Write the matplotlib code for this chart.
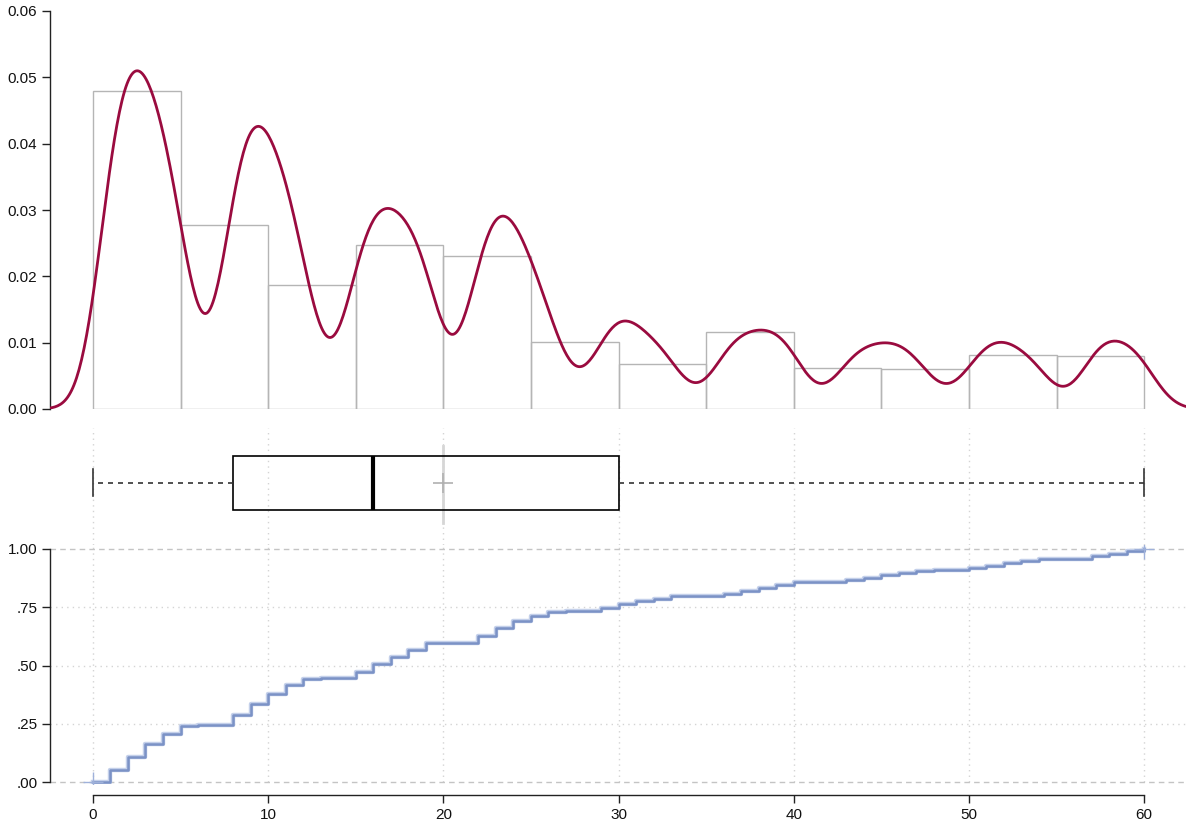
import numpy as np
import matplotlib
matplotlib.use("Agg")
import matplotlib.pyplot as plt

plt.rcParams['font.family'] = ['Liberation Sans', 'DejaVu Sans']

# ---------------- data ----------------
days = list(range(0, 61))
ecdf_levels = [
    0.000, 0.053, 0.108, 0.164, 0.207, 0.241, 0.243, 0.243, 0.286, 0.336,
    0.379, 0.416, 0.442, 0.445, 0.445, 0.473, 0.505, 0.538, 0.565, 0.595,
    0.598, 0.598, 0.627, 0.661, 0.692, 0.714, 0.731, 0.735, 0.735, 0.747,
    0.764, 0.777, 0.787, 0.797, 0.797, 0.798, 0.809, 0.821, 0.833, 0.846,
    0.857, 0.857, 0.858, 0.867, 0.877, 0.887, 0.898, 0.907, 0.910, 0.910,
    0.917, 0.928, 0.940, 0.948, 0.957, 0.957, 0.957, 0.968, 0.980, 0.990,
    1.000,
]
bin_edges = [0, 5, 10, 15, 20, 25, 30, 35, 40, 45, 50, 55, 60]
hist_density = [0.0479, 0.0278, 0.0187, 0.0247, 0.0231, 0.0101,
                0.0068, 0.0116, 0.0062, 0.0060, 0.0081, 0.0080]
box_stats = dict(whislo=0, q1=8, med=16, q3=30, whishi=60, mean=20)
kde_bandwidth = 1.1

x_ticks = [0, 10, 20, 30, 40, 50, 60]
dens_ticks = [0.00, 0.01, 0.02, 0.03, 0.04, 0.05, 0.06]
dens_labels = ["0.00", "0.01", "0.02", "0.03", "0.04", "0.05", "0.06"]
ecdf_ticks = [0.0, 0.25, 0.5, 0.75, 1.0]
ecdf_labels = [".00", ".25", ".50", ".75", "1.00"]

# --------------- figure --------------
W, H = 1186, 825
fig = plt.figure(figsize=(W / 100, H / 100), dpi=100)

def frac(left, top, right, bottom):
    return [left / W, 1 - bottom / H, (right - left) / W, (bottom - top) / H]

x_lo = -2.45
x_hi = x_lo + (W - 50) / 17.52

# --------------- derived -------------
days_a = np.array(days, dtype=float)
levels_a = np.array(ecdf_levels)
weights = np.diff(np.concatenate([[0.0], levels_a]))
weights = np.clip(weights, 0, None)
weights = weights / weights.sum()
obs = days_a[weights > 0]
w_obs = weights[weights > 0]
gx = np.linspace(x_lo, x_hi, 900)
z = (gx[:, None] - obs[None, :]) / kde_bandwidth
kde = (np.exp(-0.5 * z ** 2) / np.sqrt(2 * np.pi) * w_obs[None, :]).sum(axis=1) / kde_bandwidth

ax_top = fig.add_axes(frac(50, 11, W, 409))
ax_mid = fig.add_axes(frac(50, 428, W, 545))
ax_bot = fig.add_axes(frac(50, 545, W, 784))

grid_col = "#d4d4d4"
tick_col = "#222222"
fs = 11

# ---- top: histogram + density ----
ax_top.bar(bin_edges[:-1], hist_density, width=np.diff(bin_edges), align="edge",
           fill=False, edgecolor="#b5b5b5", linewidth=1.0, zorder=2)
ax_top.plot(gx, kde, color="#9a0b3f", linewidth=2.0, zorder=3, solid_capstyle="round")
ax_top.set_xlim(x_lo, x_hi)
ax_top.set_ylim(0, 0.06)
for s in ["top", "right", "bottom"]:
    ax_top.spines[s].set_visible(False)
ax_top.spines["left"].set_color(tick_col)
ax_top.spines["left"].set_linewidth(1.0)
ax_top.set_xticks([])
ax_top.set_yticks(dens_ticks)
ax_top.set_yticklabels(dens_labels, fontsize=fs, color="#111111")
ax_top.tick_params(axis="y", direction="out", length=6, width=1.0, color=tick_col, pad=3)
ax_top.patch.set_alpha(0)

# ---- middle: boxplot ----
ax_mid.set_xlim(x_lo, x_hi)
ax_mid.set_ylim(0, 117)
for xt in x_ticks:
    ax_mid.axvline(xt, color=grid_col, linestyle=(0, (1, 3)), linewidth=1.0, zorder=0)
box_center = 545 - 483
stats = dict(box_stats)
stats["fliers"] = []
ax_mid.plot([stats["mean"], stats["mean"]], [545 - 523, 545 - 446], color="#d6d6d6",
            linewidth=2.0, zorder=1)
ax_mid.plot([stats["mean"]], [box_center], marker="+", markersize=15, mew=1.2,
            color="#b0b0b0", zorder=4)
ax_mid.bxp([stats], positions=[box_center], vert=False, widths=53, showmeans=False,
           showfliers=False, patch_artist=True,
           boxprops=dict(facecolor="none", edgecolor="black", linewidth=1.2),
           medianprops=dict(color="black", linewidth=3.0),
           whiskerprops=dict(color="#333333", linewidth=1.2, linestyle=(0, (3, 3))),
           capprops=dict(color="#333333", linewidth=1.2),
           capwidths=27, manage_ticks=False, zorder=3)
ax_mid.set_ylim(0, 117)
ax_mid.axis("off")

# ---- bottom: ECDF ----
ax_bot.set_xlim(x_lo, x_hi)
ax_bot.set_ylim(-2 / 233, 1 + 4 / 233)
for xt in x_ticks:
    ax_bot.plot([xt, xt], [0, 1 + 4 / 233], color=grid_col, linestyle=(0, (1, 3)),
                linewidth=1.0, zorder=0)
for yv in [0.25, 0.5, 0.75]:
    ax_bot.axhline(yv, color=grid_col, linestyle=(0, (1, 3)), linewidth=1.0, zorder=0)
for yv in [0.0, 1.0]:
    ax_bot.axhline(yv, color="#c4c4c4", linestyle=(0, (4, 3)), linewidth=1.0, zorder=0)
ax_bot.step(days_a, levels_a, where="post", color="#c4d0ea", linewidth=3.2, zorder=2)
ax_bot.step(days_a, levels_a, where="post", color="#7b92c6", linewidth=1.8, zorder=3)
ax_bot.plot([days_a[0], days_a[-1]], [levels_a[0], levels_a[-1]], linestyle="none",
            marker="+", markersize=15, mew=1.0, color="#9fb1da", zorder=4)
for s in ["top", "right"]:
    ax_bot.spines[s].set_visible(False)
ax_bot.spines["left"].set_bounds(0, 1)
ax_bot.spines["bottom"].set_bounds(0, 60)
ax_bot.spines["bottom"].set_position(("outward", 8))
for s in ["left", "bottom"]:
    ax_bot.spines[s].set_color(tick_col)
    ax_bot.spines[s].set_linewidth(1.0)
ax_bot.set_xticks(x_ticks)
ax_bot.set_xticklabels([str(t) for t in x_ticks], fontsize=fs, color="#111111")
ax_bot.set_yticks(ecdf_ticks)
ax_bot.set_yticklabels(ecdf_labels, fontsize=fs, color="#111111")
ax_bot.tick_params(axis="both", direction="out", length=6, width=1.0, color=tick_col, pad=3)
ax_bot.patch.set_alpha(0)

fig.savefig("out.png", dpi=100)
